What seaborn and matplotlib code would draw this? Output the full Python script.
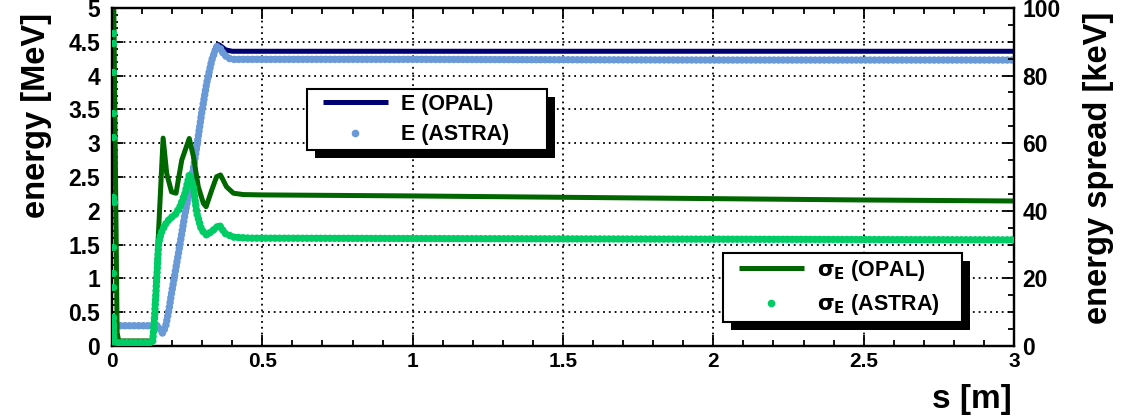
import numpy as np
import pandas as pd
import matplotlib
matplotlib.use('Agg')
import matplotlib.pyplot as plt
import seaborn as sns
from matplotlib.lines import Line2D
from matplotlib.patches import Rectangle
from matplotlib.legend_handler import HandlerLine2D
from matplotlib.ticker import MultipleLocator, FuncFormatter
from matplotlib.transforms import IdentityTransform

# ---------------- data ----------------
# Energy, OPAL  [MeV] vs s [m]
s_E_opal = [0.0, 0.004, 0.150, 0.160, 0.168, 0.178, 0.190, 0.198, 0.221, 0.243,
            0.265, 0.282, 0.298, 0.315, 0.332, 0.345, 0.354, 0.364, 0.378, 0.400,
            1.0, 2.0, 3.0]
E_opal = [0.0, 0.30, 0.30, 0.25, 0.20, 0.28, 0.55, 0.78, 1.37, 1.96,
          2.46, 2.95, 3.44, 3.89, 4.25, 4.42, 4.46, 4.43, 4.38, 4.36,
          4.36, 4.36, 4.36]

# Energy, ASTRA [MeV]
s_E_astra = [0.0, 0.004, 0.150, 0.160, 0.168, 0.178, 0.190, 0.198, 0.221, 0.243,
             0.265, 0.282, 0.298, 0.315, 0.332, 0.348, 0.358, 0.370, 0.385, 0.400,
             1.0, 2.0, 3.0]
E_astra = [0.0, 0.30, 0.30, 0.25, 0.19, 0.28, 0.55, 0.78, 1.37, 1.96,
           2.46, 2.95, 3.44, 3.89, 4.23, 4.43, 4.42, 4.33, 4.26, 4.24,
           4.24, 4.23, 4.23]

# Energy spread, OPAL [keV]
s_sig_opal = [0.0, 0.006, 0.017, 0.022, 0.137, 0.170, 0.182, 0.198, 0.213, 0.232,
              0.257, 0.271, 0.287, 0.304, 0.313, 0.332, 0.348, 0.361, 0.381, 0.404,
              0.437, 0.5, 1.0, 1.5, 2.0, 2.5, 3.0]
sig_opal = [130.0, 100.0, 4.0, 1.5, 1.5, 61.5, 51.0, 45.6, 45.2, 55.0,
            61.4, 56.0, 47.1, 42.2, 41.2, 46.2, 50.1, 50.6, 47.1, 45.2,
            44.8, 44.7, 44.4, 44.0, 43.6, 43.2, 42.9]

# Energy spread, ASTRA [keV]
s_sig_astra = [0.004, 0.006, 0.135, 0.141, 0.146, 0.151, 0.155, 0.163, 0.176, 0.193,
               0.210, 0.226, 0.243, 0.257, 0.271, 0.282, 0.298, 0.315, 0.337, 0.357,
               0.376, 0.404, 0.459, 1.0, 2.0, 3.0]
sig_astra = [8.0, 1.0, 1.0, 7.7, 15.6, 23.5, 30.4, 33.3, 35.8, 37.8,
             38.8, 41.2, 45.2, 50.6, 47.1, 39.3, 34.3, 32.8, 34.3, 35.8,
             33.3, 32.2, 31.9, 31.8, 31.6, 31.4]
# early ASTRA samples near the cathode
s_sig_astra0 = [0.003, 0.002, 0.003, 0.002, 0.004, 0.003, 0.005, 0.004, 0.003, 0.004, 0.004, 0.003]
sig_astra0 = [92.6, 89.6, 81.1, 68.9, 61.8, 44.1, 42.6, 29.3, 21.6, 17.5, 8.6, 6.2]

x_ticks = [0, 0.5, 1, 1.5, 2, 2.5, 3]
y_ticks = [0, 0.5, 1, 1.5, 2, 2.5, 3, 3.5, 4, 4.5, 5]
y2_ticks = [0, 20, 40, 60, 80, 100]

labels_E = ['E (OPAL)', 'E (ASTRA)']
labels_sig = [r'$\sigma_{E}$ (OPAL)', r'$\sigma_{E}$ (ASTRA)']

# ---------------- style ----------------
sns.set_theme(style='white')
plt.rcParams['font.family'] = ['Liberation Sans', 'DejaVu Sans']
plt.rcParams['font.weight'] = 'bold'
plt.rcParams['mathtext.fontset'] = 'custom'
plt.rcParams['mathtext.rm'] = 'Liberation Sans:bold'
plt.rcParams['mathtext.it'] = 'DejaVu Sans:bold'
plt.rcParams['mathtext.bf'] = 'Liberation Sans:bold'
plt.rcParams['mathtext.sf'] = 'Liberation Sans:bold'
plt.rcParams['axes.linewidth'] = 1.5

navy = '#000070'
lblue = '#6999d6'
dgreen = '#006600'
bgreen = '#00cc66'

W, H = 1126, 419
fig = plt.figure(figsize=(W / 100, H / 100), dpi=100)
L, R, T, B = 112, 1014, 8, 346
ax = fig.add_axes([L / W, 1 - B / H, (R - L) / W, (B - T) / H])
ax2 = ax.twinx()

dot_ls = (0, (0.01, 0.6))

sns.lineplot(x=s_E_opal, y=E_opal, ax=ax, color=navy, lw=3.6, estimator=None,
             sort=False, legend=False, zorder=2)
sns.lineplot(x=s_E_astra, y=E_astra, ax=ax, color=lblue, lw=5.4, linestyle=dot_ls,
             dash_capstyle='round', estimator=None, sort=False, legend=False, zorder=3)

sns.lineplot(x=s_sig_opal, y=sig_opal, ax=ax2, color=dgreen, lw=3.6, estimator=None,
             sort=False, legend=False, zorder=2)
sns.lineplot(x=s_sig_astra, y=sig_astra, ax=ax2, color=bgreen, lw=5.4, linestyle=dot_ls,
             dash_capstyle='round', estimator=None, sort=False, legend=False, zorder=3)
sns.scatterplot(x=s_sig_astra0, y=sig_astra0, ax=ax2, color=bgreen, s=28,
                linewidth=0, legend=False, zorder=3)

# ---------------- axes ----------------
ax.set_xlim(0, 3)
ax.set_ylim(0, 5)
ax2.set_ylim(0, 100)
fmt = FuncFormatter(lambda v, p: f'{v:g}')
ax.set_xticks(x_ticks)
ax.set_yticks(y_ticks)
ax2.set_yticks(y2_ticks)
ax.xaxis.set_major_formatter(fmt)
ax.yaxis.set_major_formatter(fmt)
ax2.yaxis.set_major_formatter(fmt)
ax.xaxis.set_minor_locator(MultipleLocator(0.1))
ax.yaxis.set_minor_locator(MultipleLocator(0.1))
ax2.yaxis.set_minor_locator(MultipleLocator(5))

ax.tick_params(which='both', direction='in', top=True, bottom=True, left=True,
               right=False, color='black', width=1.3)
ax.tick_params(which='major', length=8)
ax.tick_params(which='minor', length=4)
ax.tick_params(axis='x', labelsize=15, pad=4.5, labelcolor='black')
ax.tick_params(axis='y', labelsize=16.5, pad=8.5, labelcolor='black')
ax2.tick_params(which='both', direction='in', right=True, left=False,
                color='black', width=1.3, labelsize=16.5, pad=6, labelcolor='black')
ax2.tick_params(which='major', length=8)
ax2.tick_params(which='minor', length=4)
for lab in ax.get_xticklabels() + ax.get_yticklabels() + ax2.get_yticklabels():
    lab.set_fontweight('bold')

for a in (ax, ax2):
    for sp in a.spines.values():
        sp.set_color('black')
        sp.set_linewidth(1.6)

ax.set_axisbelow(True)
ax.grid(True, which='major', color='black', linestyle=(0, (1, 2.2)), linewidth=1.3)

ax.set_ylabel('energy [MeV]', fontsize=23.5, fontweight='bold', color='black', loc='top')
ax.yaxis.set_label_coords(-0.0665, 0.985)
ax2.set_ylabel('energy spread [keV]', fontsize=23.5, fontweight='bold', color='black', loc='top')
ax2.yaxis.set_label_coords(1.0765, 0.99)
ax.set_xlabel('s [m]', fontsize=24, fontweight='bold', color='black', loc='right')
ax.xaxis.set_label_coords(0.998, -0.112)

# ---------------- legends ----------------
hmap = {Line2D: HandlerLine2D(xpad=0.5)}
common = dict(loc='upper left', mode='expand', borderaxespad=0, fancybox=False,
              framealpha=1, borderpad=0.22, labelspacing=0.45, handlelength=3.55,
              handletextpad=0.6, prop={'weight': 'bold', 'size': 15.5},
              handler_map=hmap)

h1 = [Line2D([], [], color=navy, lw=3.6, solid_capstyle='butt'),
      Line2D([], [], color=lblue, lw=0, marker='o', ms=5.5, markeredgewidth=0)]
leg1 = ax2.legend(h1, labels_E, bbox_to_anchor=(0.2162, 0.7604, 0.2661, 0.0), **common)
ax2.add_artist(leg1)

h2 = [Line2D([], [], color=dgreen, lw=3.6, solid_capstyle='butt'),
      Line2D([], [], color=bgreen, lw=0, marker='o', ms=5.5, markeredgewidth=0)]
leg2 = ax2.legend(h2, labels_sig, bbox_to_anchor=(0.6774, 0.2751, 0.265, 0.0), **common)

for lg in (leg1, leg2):
    fr = lg.get_frame()
    fr.set_edgecolor('black')
    fr.set_linewidth(1.5)
    fr.set_facecolor('white')
    for t in lg.get_texts():
        t.set_color('black')

fig.canvas.draw()
for lg in (leg1, leg2):
    bb = lg.get_frame().get_window_extent()
    sh = Rectangle((bb.x0 + 8, bb.y0 - 8), bb.width, bb.height,
                   transform=IdentityTransform(), facecolor='black',
                   edgecolor='none', zorder=lg.get_zorder() - 0.1, clip_on=False)
    ax2.add_artist(sh)

fig.savefig('out.png', dpi=100)
